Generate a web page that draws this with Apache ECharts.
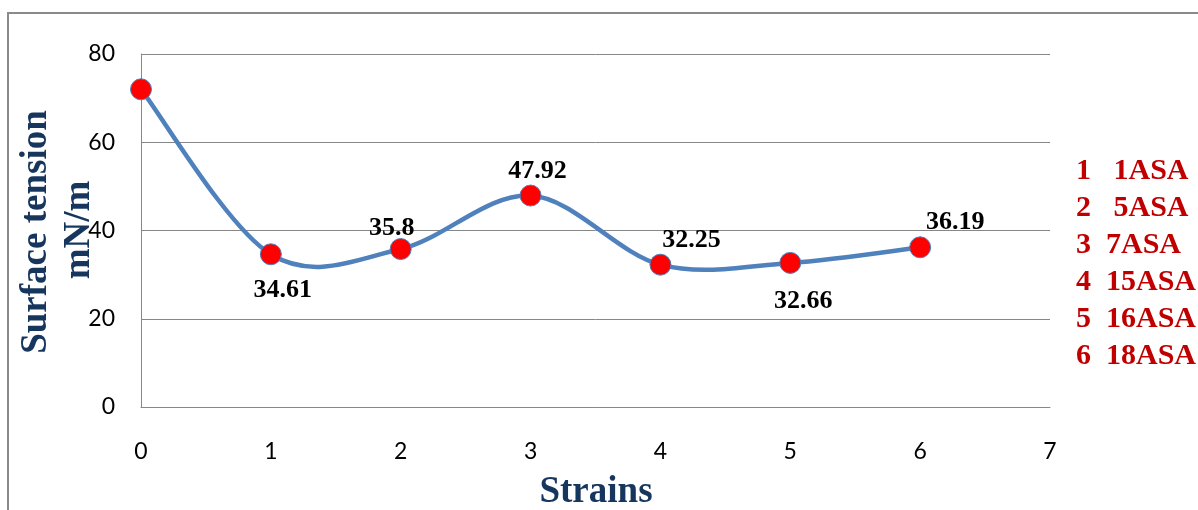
<!DOCTYPE html>
<html>
<head>
<meta charset="utf-8">
<script src="https://cdn.jsdelivr.net/npm/echarts@6/dist/echarts.min.js"></script>
<style>html,body{margin:0;padding:0;background:#fff}#c{width:1198px;height:510px}</style>
</head>
<body>
<div id="c"></div>
<script>
// ---- data ----
var strains = [0, 1, 2, 3, 4, 5, 6];
var surfaceTension = [72, 34.61, 35.8, 47.92, 32.25, 32.66, 36.19];
var pointLabels = ['', '34.61', '35.8', '47.92', '32.25', '32.66', '36.19'];
var legendLines = ['1   1ASA', '2   5ASA', '3  7ASA', '4  15ASA', '5  16ASA', '6  18ASA'];
var yTicks = [0, 20, 40, 60, 80];
var xTicks = [0, 1, 2, 3, 4, 5, 6, 7];

// label placement (offset of label centre from the point), kept separate from data
var labelOffsets = [[0,0],[12,36],[-9,-21],[7,-24],[31,-24],[13,38],[35,-25]];

var chart = echarts.init(document.getElementById('c'), null, {renderer:'canvas'});

var points = strains.map(function(x, i){ return [x, surfaceTension[i]]; });

var scatterData = points.map(function(p, i){
  return {
    value: p,
    label: {
      show: pointLabels[i] !== '',
      position: 'inside',
      offset: labelOffsets[i],
      formatter: pointLabels[i]
    }
  };
});

// Excel-like smoothed line: Catmull-Rom style Bezier segments through the data,
// positioned with the chart's own scales (api.coord)
function renderSegment(params, api){
  var i = params.dataIndex;
  var n = points.length;
  if (i >= n - 1) return null;
  function c(k){ k = Math.max(0, Math.min(n - 1, k)); return api.coord(points[k]); }
  var p0 = c(i - 1), p1 = c(i), p2 = c(i + 1), p3 = c(i + 2);
  var t = 1/6;
  return {
    type: 'bezierCurve',
    shape: {
      x1: p1[0], y1: p1[1],
      cpx1: p1[0] + (p2[0] - p0[0]) * t, cpy1: p1[1] + (p2[1] - p0[1]) * t,
      cpx2: p2[0] - (p3[0] - p1[0]) * t, cpy2: p2[1] - (p3[1] - p1[1]) * t,
      x2: p2[0], y2: p2[1]
    },
    style: { stroke: '#4F81BD', lineWidth: 4.5, fill: null, lineCap: 'round' },
    silent: true
  };
}

var legendGraphics = legendLines.map(function(t, i){
  return {
    type: 'text', left: 1076, top: 173 + i*37 - 17,
    style: { text: t, fill: '#C00000', font: 'bold 30px "Liberation Serif", "Times New Roman", serif' }
  };
});

var gridLineColor = '#878787';
var option = {
  animation: false,
  backgroundColor: '#fff',
  grid: { left: 141, right: 148, top: 54, bottom: 103 },
  xAxis: {
    type: 'value', min: 0, max: 7, interval: 1,
    axisLine: { show: true, onZero: false, lineStyle: { color: gridLineColor, width: 1 } },
    axisTick: { show: false },
    splitLine: { show: false },
    axisLabel: { margin: 33, color: '#000', fontSize: 23, fontFamily: 'Lato, "Liberation Sans", sans-serif',
      formatter: function(v){ return xTicks.indexOf(v) >= 0 ? String(v) : ''; } }
  },
  yAxis: {
    type: 'value', min: 0, max: 80, interval: 20,
    axisLine: { show: true, lineStyle: { color: gridLineColor, width: 1 } },
    axisTick: { show: false },
    splitLine: { show: true, lineStyle: { color: gridLineColor, width: 1 } },
    axisLabel: { margin: 26, color: '#000', fontSize: 23, fontFamily: 'Lato, "Liberation Sans", sans-serif',
      formatter: function(v){ return yTicks.indexOf(v) >= 0 ? String(v) : ''; } }
  },
  series: [
    {
      type: 'custom',
      data: points,
      renderItem: renderSegment,
      clip: false,
      z: 2
    },
    {
      type: 'scatter',
      data: scatterData,
      symbol: 'circle', symbolSize: 21,
      itemStyle: { color: '#FF0000', borderColor: '#4F81BD', borderWidth: 1, opacity: 1 },
      label: { color: '#000', fontSize: 26, fontWeight: 'bold', fontFamily: '"Liberation Serif", "Times New Roman", serif' },
      z: 3
    }
  ],
  graphic: [
    { type: 'polyline', shape: { points: [[8, 512], [8, 13], [1200, 13]] },
      style: { stroke: '#8A8A8A', lineWidth: 2, fill: null }, silent: true },
    { type: 'text', x: 36, y: 232, rotation: Math.PI/2,
      style: { text: 'Surface tension', fill: '#17365D', textAlign: 'center', textVerticalAlign: 'middle',
        font: 'bold 37px "Liberation Serif", "Times New Roman", serif' } },
    { type: 'text', x: 79, y: 230, rotation: Math.PI/2,
      style: { text: 'mN/m', fill: '#17365D', textAlign: 'center', textVerticalAlign: 'middle',
        font: 'bold 37px "Liberation Serif", "Times New Roman", serif' } },
    { type: 'text', x: 596, y: 492,
      style: { text: 'Strains', fill: '#17365D', textAlign: 'center', textVerticalAlign: 'middle',
        font: 'bold 37px "Liberation Serif", "Times New Roman", serif' } }
  ].concat(legendGraphics)
};
chart.setOption(option);
</script>
</body>
</html>
